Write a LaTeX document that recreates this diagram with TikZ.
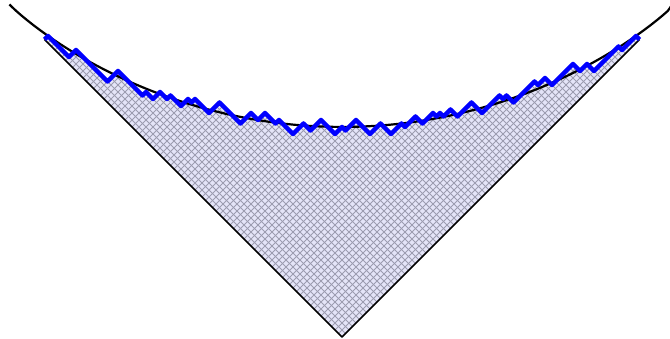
\documentclass[tikz,border=0pt]{standalone}
\usepackage{tikz}
\definecolor{cellfill}{HTML}{E4E4F8}
\definecolor{cellline}{HTML}{9C9CB0}
\definecolor{walkblue}{HTML}{0000FF}
\newcommand{\limitscale}{47.14}
\newcommand{\youngedge}{(-85,85) -- (-84,86) -- (-78,80) -- (-76,82) -- (-67,73) -- (-64,76) -- (-57,69) -- (-56,70) -- (-54,68) -- (-52,70) -- (-50,68) -- (-49,69) -- (-46,66) -- (-44,68) -- (-43,67) -- (-42,68) -- (-38,64) -- (-35,67) -- (-29,61) -- (-26,64) -- (-24,62) -- (-22,64) -- (-19,61) -- (-18,62) -- (-14,58) -- (-11,61) -- (-9,59) -- (-6,62) -- (-2,58) -- (0,60) -- (1,59) -- (4,62) -- (8,58) -- (11,61) -- (14,58) -- (17,61) -- (18,60) -- (21,63) -- (23,61) -- (26,64) -- (27,63) -- (28,64) -- (29,63) -- (31,65) -- (33,63) -- (37,67) -- (40,64) -- (45,69) -- (46,68) -- (47,69) -- (49,67) -- (55,73) -- (56,72) -- (58,74) -- (60,72) -- (66,78) -- (68,76) -- (70,78) -- (72,76) -- (79,83) -- (80,82) -- (84,86) -- (85,85)}

\begin{document}
\begin{tikzpicture}[x=3.5pt, y=3.5pt, line join=round]
    \useasboundingbox (-97.714,-0.571) rectangle (93.714,96.286);
    % boxes of the diagram
    \fill[cellfill] (0,0) -- \youngedge -- cycle;
    \begin{scope}
      \clip (0,0) -- \youngedge -- cycle;
      \foreach \k in {1,...,85} {
        \draw[cellline, line width=1pt] (2*\k,0) -- (2*\k-100,100);
        \draw[cellline, line width=1pt] (-2*\k,0) -- (100-2*\k,100);
      }
    \end{scope}
    \draw[line width=1.5pt] (-85,85) -- (0,0) -- (85,85);
    % limit shape
    \draw[line width=2.2pt] (-95,95) -- plot[domain=-2:2, samples=161]
      ({\limitscale*\x}, {\limitscale*(2/pi)*(\x*rad(asin(\x/2)) + sqrt(max(0,4-\x*\x)))}) -- (96,96);
    % boundary of the diagram
    \draw[walkblue, line width=4.5pt] \youngedge;
  \end{tikzpicture}
\end{document}
